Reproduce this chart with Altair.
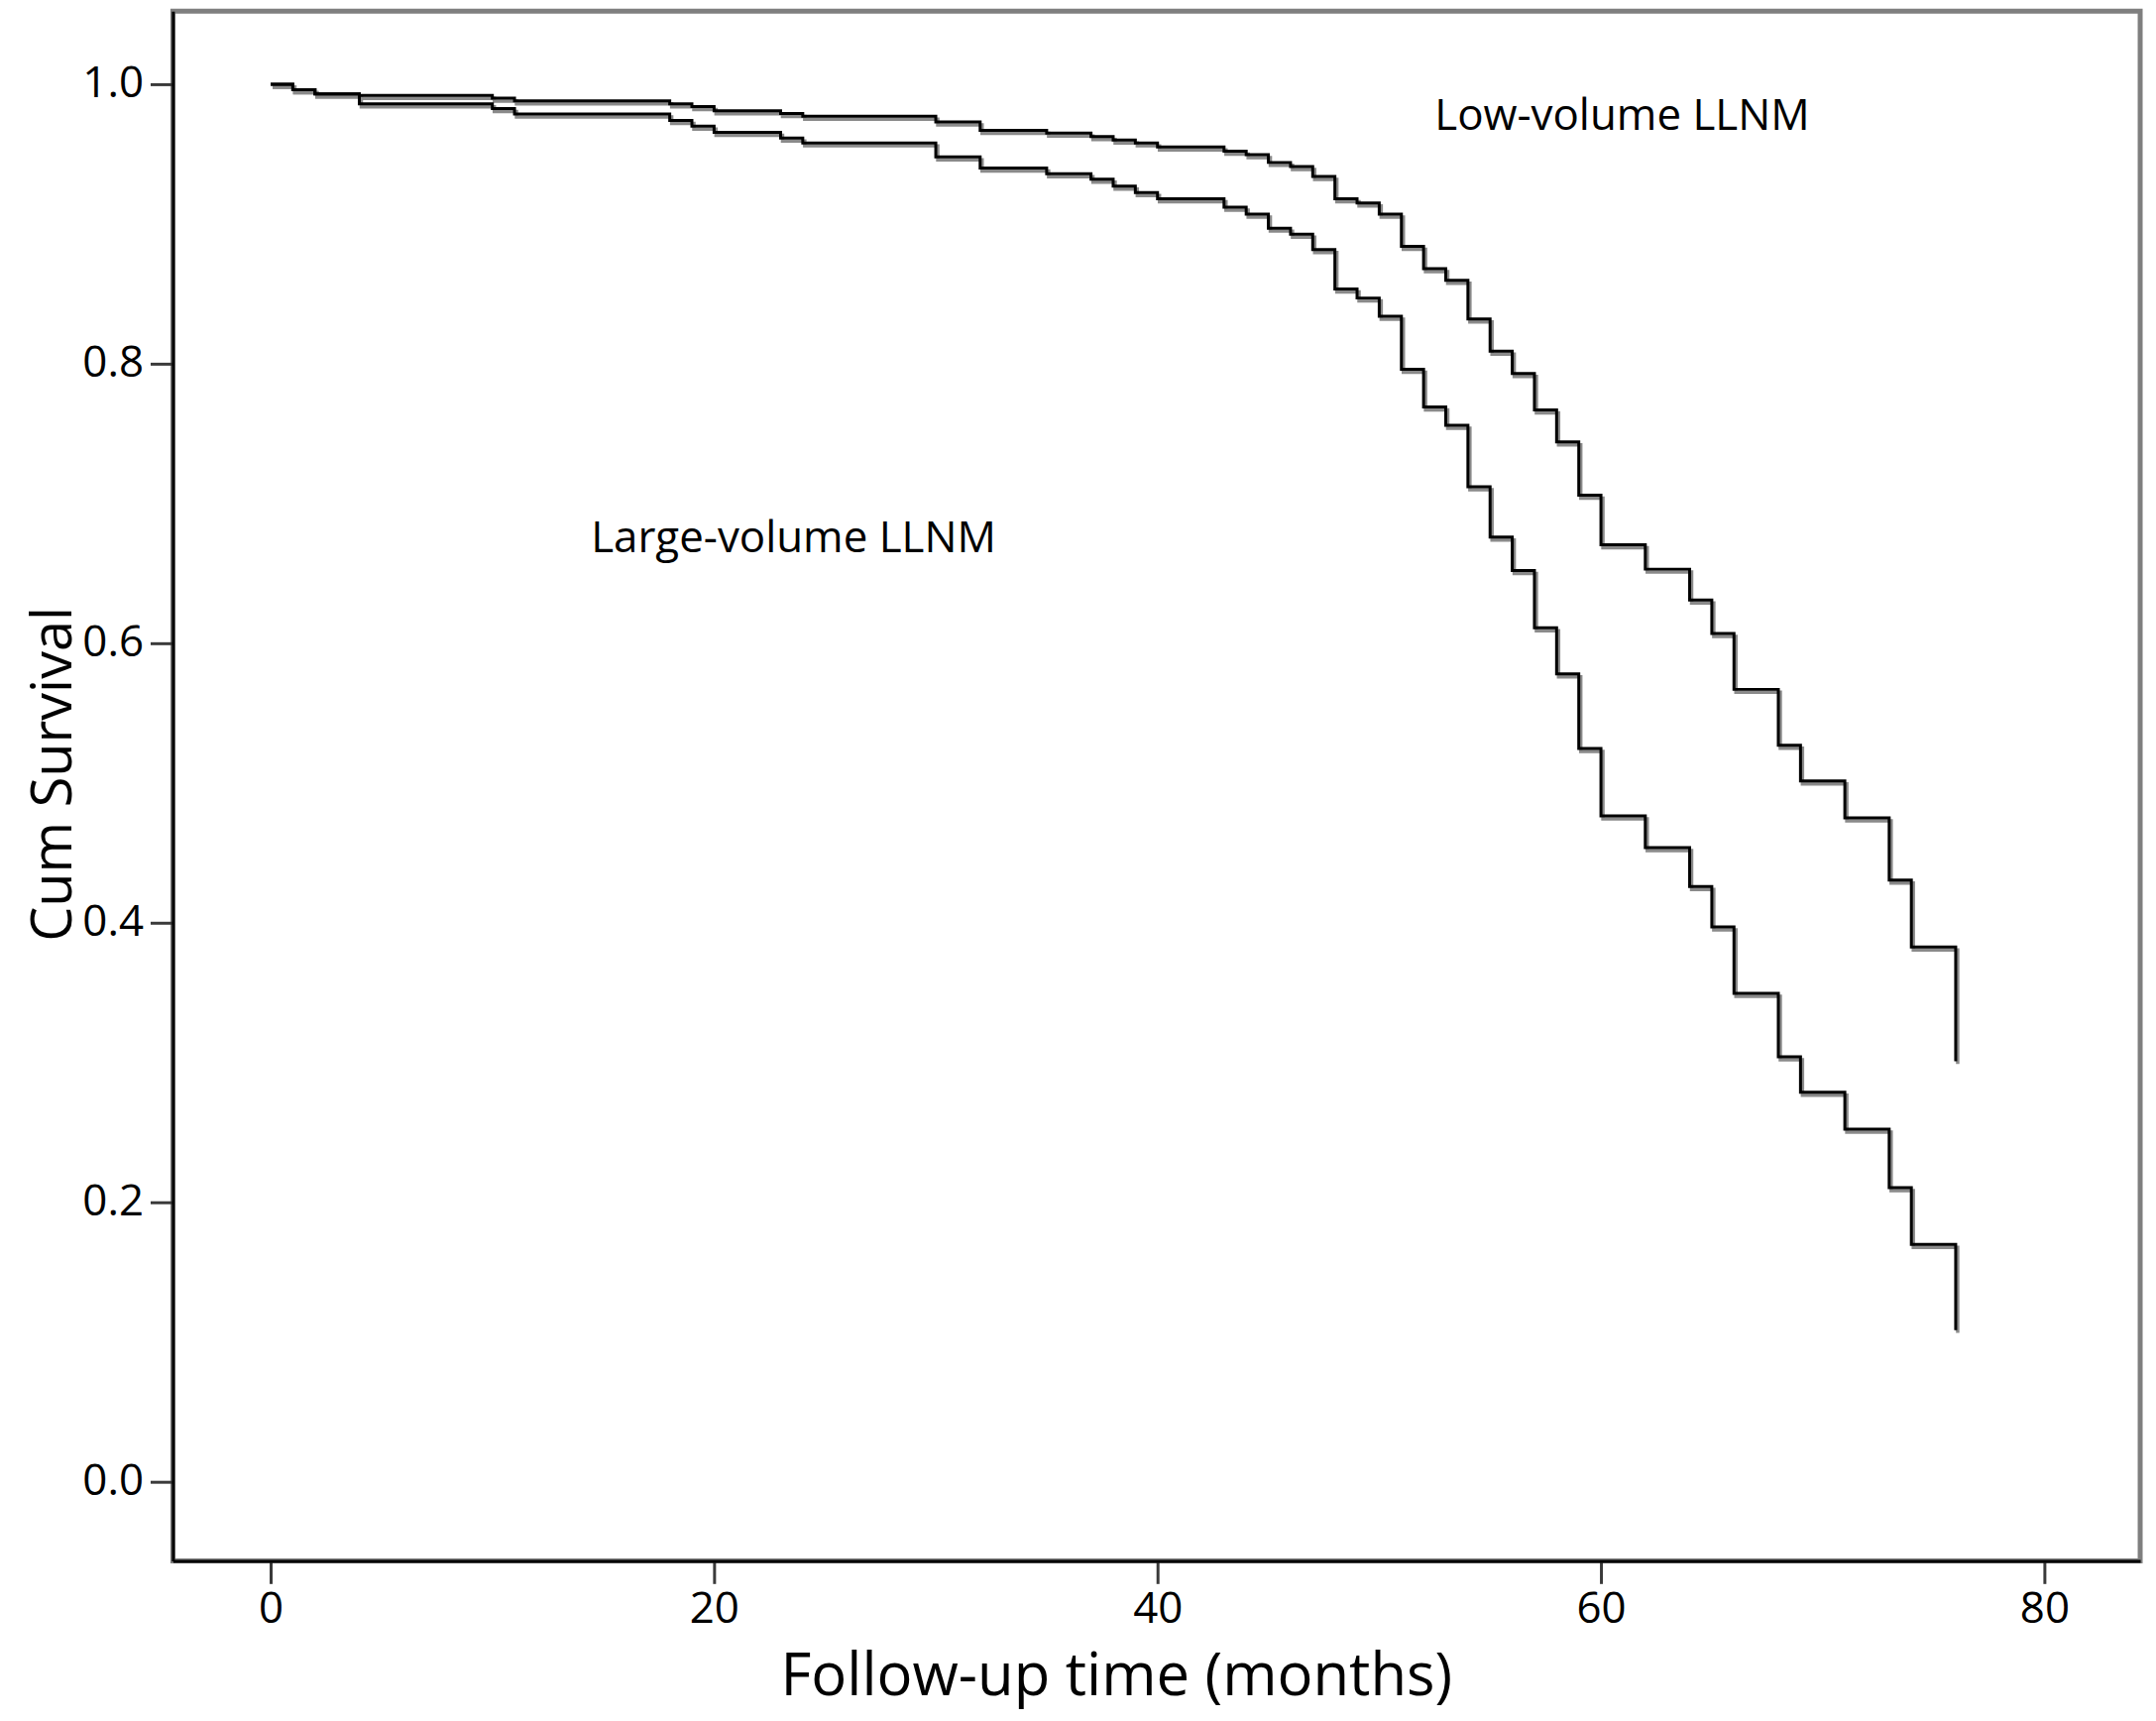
import altair as alt
import pandas as pd

# Kaplan-Meier step curves (months, cumulative survival)
months_low = [0, 1, 2, 4, 10, 11, 18, 19, 20, 23, 24, 30, 32, 35, 37, 38, 39, 40,
              43, 44, 45, 46, 47, 48, 49, 50, 51, 52, 53, 54, 55, 56, 57, 58, 59,
              60, 62, 64, 65, 66, 68, 69, 71, 73, 74, 76]
surv_low = [1.0, 0.996, 0.993, 0.992, 0.990, 0.988, 0.986, 0.984, 0.981, 0.979,
            0.977, 0.973, 0.967, 0.965, 0.9625, 0.960, 0.958, 0.955, 0.952, 0.9496,
            0.944, 0.941, 0.934, 0.918, 0.915, 0.907, 0.884, 0.868, 0.8596, 0.832,
            0.809, 0.793, 0.767, 0.744, 0.706, 0.6705, 0.653, 0.631, 0.607, 0.567,
            0.527, 0.5015, 0.475, 0.4306, 0.3826, 0.301]

months_large = [0, 1, 2, 4, 10, 11, 18, 19, 20, 23, 24, 30, 32, 35, 37, 38, 39, 40,
                43, 44, 45, 46, 47, 48, 49, 50, 51, 52, 53, 54, 55, 56, 57, 58, 59,
                60, 62, 64, 65, 66, 68, 69, 71, 73, 74, 76]
surv_large = [1.0, 0.996, 0.993, 0.986, 0.9826, 0.9786, 0.974, 0.970, 0.9656, 0.9614,
              0.958, 0.948, 0.940, 0.936, 0.932, 0.927, 0.9225, 0.918, 0.912, 0.907,
              0.897, 0.8926, 0.8817, 0.8535, 0.847, 0.834, 0.796, 0.769, 0.756, 0.712,
              0.676, 0.652, 0.611, 0.578, 0.5247, 0.4765, 0.4537, 0.426, 0.397, 0.3495,
              0.3041, 0.2787, 0.2523, 0.2104, 0.1698, 0.1086]

group_names = ["Low-volume LLNM", "Large-volume LLNM"]
label_months = [52.5, 14.45]
label_surv = [0.9675, 0.665]

x_ticks = [0, 20, 40, 60, 80]
y_ticks = [0.0, 0.2, 0.4, 0.6, 0.8, 1.0]

curves = pd.concat([
    pd.DataFrame({"month": months_low, "surv": surv_low, "group": group_names[0]}),
    pd.DataFrame({"month": months_large, "surv": surv_large, "group": group_names[1]}),
], ignore_index=True)

labels = pd.DataFrame({"month": label_months, "surv": label_surv, "text": group_names})

FONT = "Open Sans"

x_scale = alt.Scale(domain=[-4.41, 84.32], nice=False, zero=False)
y_scale = alt.Scale(domain=[-0.0565, 1.0523], nice=False, zero=False)

x_axis = alt.Axis(
    values=x_ticks, format="d", grid=False,
    title="Follow-up time (months)",
    titleFont=FONT, titleFontSize=60, titleFontWeight="normal", titleColor="black",
    titleX=955, titleY=136, titleAlign="center", titleBaseline="alphabetic",
    labelFont=FONT, labelFontSize=44, labelColor="black", labelPadding=4,
    tickSize=23, tickWidth=3, tickColor="#3a3a3a",
    domainColor="black", domainWidth=3,
)
y_axis = alt.Axis(
    values=y_ticks, format=".1f", grid=False,
    title="Cum Survival",
    titleFont=FONT, titleFontSize=56, titleFontWeight="normal", titleColor="black",
    titleX=-120, titleY=772, titleAlign="center", titleBaseline="middle", titleAngle=-90,
    labelFont=FONT, labelFontSize=44, labelColor="black", labelPadding=7,
    tickSize=23, tickWidth=3, tickColor="#3a3a3a",
    domainColor="black", domainWidth=3,
)

base = alt.Chart(curves)

shadow = base.mark_line(
    interpolate="step-after", color="#8a8a8a", strokeWidth=3.5, xOffset=2, yOffset=3
).encode(
    x=alt.X("month:Q", scale=x_scale, axis=x_axis),
    y=alt.Y("surv:Q", scale=y_scale, axis=y_axis),
    detail="group:N",
)

lines = base.mark_line(
    interpolate="step-after", color="black", strokeWidth=3
).encode(
    x=alt.X("month:Q", scale=x_scale),
    y=alt.Y("surv:Q", scale=y_scale),
    detail="group:N",
)

text = alt.Chart(labels).mark_text(
    font=FONT, fontSize=44, color="black", align="left", baseline="alphabetic"
).encode(
    x=alt.X("month:Q", scale=x_scale),
    y=alt.Y("surv:Q", scale=y_scale),
    text="text:N",
)

chart = alt.layer(shadow, lines, text).properties(
    width=1992,
    height=1569,
    autosize=alt.AutoSizeParams(type="none"),
    padding={"left": 167, "top": 0, "right": 8, "bottom": 158},
    background="white",
).configure_view(
    stroke="#7f7f7f", strokeWidth=5
)

chart.save("out.html", embed_options={"renderer": "svg", "actions": False})
